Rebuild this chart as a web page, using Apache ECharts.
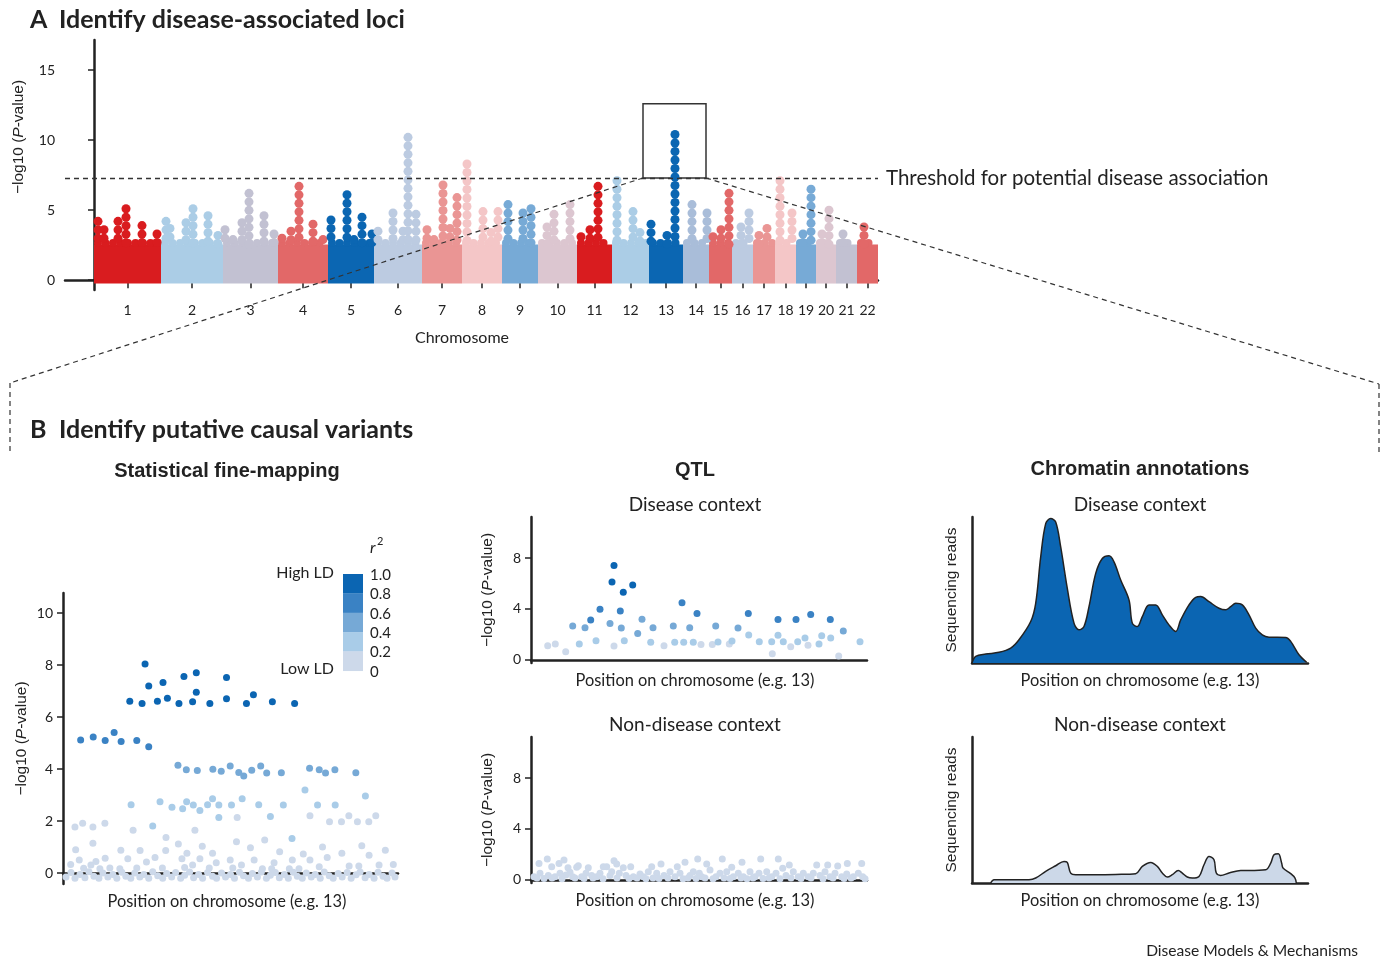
<!DOCTYPE html>
<html>
<head>
<meta charset="utf-8">
<script src="https://cdn.jsdelivr.net/npm/echarts@6/dist/echarts.min.js"></script>
<style>
  html, body { margin: 0; background: #fff; }
  #chart { width: 1389px; height: 960px; }
</style>
</head>
<body>
<div id="chart"></div>
<script>
// ---------- Panel A: Manhattan plot ----------
const chromosomes = ['1','2','3','4','5','6','7','8','9','10','11','12','13','14','15','16','17','18','19','20','21','22'];
const chromWidths = [67,62,55,50,46,48,40,40,36,39,35,37,34,26,23,21,22,21,20,20,21,21];
const chromColors = ['#d91c1f','#abcde6','#c2c1d2','#e26868','#0b66b2','#bccbe1','#ea9594','#f4c6c7','#77aad6','#dcc6d0',
                     '#d91c1f','#abcde6','#0b66b2','#a9bdd9','#e26868','#bccbe1','#ea9594','#f4c6c7','#77aad6','#dcc6d0','#c2c1d2','#e26868'];
const blockTop = 2.55;
const blockBottom = -0.24;
const threshold = 7.3;
// [chromosome, position, top -log10 P] of each stacked column of SNPs
const gwasPeaks = [
  [1,4,4.2],[1,10,3.6],[1,24,4.2],[1,32,5.1],[1,48,3.9],[1,63,3.3],
  [2,72,4.2],[2,76,3.7],[2,92,4.1],[2,99,5.1],[2,114,4.6],[2,124,3.2],
  [3,131,3.6],[3,139,2.9],[3,148,4.1],[3,155,6.2],[3,170,4.6],[3,180,3.3],
  [4,188,3.0],[4,197,3.5],[4,205,6.7],[4,219,4.0],[4,229,2.9],
  [5,237,4.3],[5,253,6.1],[5,260,2.9],[5,268,4.5],[5,278,3.3],
  [6,284,3.5],[6,299,4.8],[6,309,3.5],[6,314,10.2],[6,322,4.7],
  [7,333,3.6],[7,340,2.9],[7,349,6.8],[7,356,3.7],[7,363,5.9],
  [8,373,8.3],[8,389,4.9],[8,397,3.4],[8,404,4.9],
  [9,414,5.4],[9,429,4.8],[9,437,5.1],
  [10,453,3.8],[10,460,4.7],[10,476,5.4],
  [11,487,3.1],[11,496,3.6],[11,504,6.7],
  [12,523,7.1],[12,539,4.9],[12,546,3.4],
  [13,557,4.0],[13,573,3.2],[13,581,10.4],
  [14,598,5.4],[14,613,4.8],
  [15,619,3.1],[15,627,3.6],[15,635,6.2],
  [16,647,3.8],[16,655,4.8],
  [17,665,3.2],[17,673,3.7],
  [18,686,7.1],[18,698,4.8],
  [19,709,3.3],[19,717,6.5],
  [20,728,3.3],[20,735,5.0],
  [21,749,3.3],
  [22,770,3.8]
];
const zoomBox = { x0: 549, x1: 612, y0: 7.3, y1: 12.6 };

// ---------- Panel B: fine-mapping, colour bins by r2 ----------
const ldLabels = ['1.0','0.8','0.6','0.4','0.2','0'];
const ldColors = ['#0b65b2','#3a82c4','#76a9d6','#a9cce8','#cdd9ea'];
const fineMapLD8 = [[67,6.61],[79.3,6.52],[82.3,8.04],[86,7.19],[94.7,6.61],[100.3,7.33],[104.7,6.72],[116.3,6.52],[121.3,7.56],
  [130,6.59],[133.7,7.7],[133.7,6.95],[147.3,6.52],[164,7.52],[164,6.7],[184,6.52],[191,6.86],[210,6.59],[232.3,6.52]];
const fineMapLD6 = [[17.7,5.12],[30.3,5.23],[42.3,5.1],[51.3,5.41],[58.3,5.06],[74,5.1],[86,4.86]];
const fineMapLD4 = [[115.3,4.15],[123.7,3.97],[134.7,3.94],[150.3,3.99],[158.7,3.92],[167.7,4.12],[176.3,3.87],[181.3,3.73],
  [189.3,3.95],[198.3,4.12],[204.3,3.85],[219,3.86],[247.3,4.03],[257,3.97],[263.3,3.85],[272.7,3.97],[293.7,3.86]];
const fineMapLD2 = [[68.3,2.63],[97.3,2.74],[109.3,2.53],[120,2.47],[124,2.74],[130.7,2.62],[137.3,2.41],[145,2.63],[150,2.86],
  [156.3,2.62],[156.3,2.14],[169,2.62],[179.7,2.86],[196.3,2.63],[208,2.18],[221,2.62],[242.7,3.19],[255.3,2.62],[273,2.62],
  [303.3,2.96],[90,1.81],[229.7,1.33]];
const fineMapLD0 = [[12,1.77],[19.7,1.92],[30,1.77],[42,1.92],[70.3,1.65],[132.3,1.65],[174.7,2.14],[247.7,2.2],[267.3,1.97],
  [279.3,1.97],[286.7,2.2],[295.3,1.97],[306.7,1.97],[313.7,2.2],
  [30,1.15],[12.7,0.9],[103.3,1.37],[115.7,1.12],[58,0.88],[77.3,0.87],[103,0.87],[124.3,0.76],[139.7,1.03],[150,0.76],[174,1.2],
  [188,0.97],[202.3,1.27],[217.3,0.82],[241,0.73],[260.3,1.0],[279.7,0.76],[299.7,1.05],[323.3,0.88],[307,0.69],[265,0.6],
  [247.7,0.5],[230,0.5],[211.7,0.4],[191.7,0.5],[167.7,0.5],[153.7,0.4],[137.3,0.55],[119.3,0.55],[92.3,0.6],[83.7,0.43],
  [65,0.55],[42.3,0.57],[33,0.45],[28,0.31],[16.3,0.5],[7.7,0.33],[20.7,0.19],[37,0.17],[47,0.2],[57,0.17],[74,0.2],[99.7,0.2],
  [122,0.21],[130,0.31],[146.7,0.2],[170.3,0.2],[179,0.31],[200,0.17],[209.3,0.17],[227,0.17],[236.7,0.17],[257,0.24],[287,0.27],
  [296.7,0.27],[317,0.31],[331.3,0.33],
  [3,-0.15],[8,0.02],[12,-0.2],[17,-0.05],[22,-0.18],[26,0.05],[31,-0.12],[36,-0.2],[40,0.0],[45,-0.15],[50,-0.05],[54,-0.2],
  [59,0.03],[63,-0.12],[68,-0.2],[72,0.0],[77,-0.15],[81,-0.05],[86,-0.2],[90,0.05],[95,-0.1],[100,-0.2],[104,-0.02],[109,-0.15],
  [113,0.02],[118,-0.2],[122,-0.08],[127,0.04],[131,-0.18],[136,-0.05],[140,-0.2],[145,0.02],[150,-0.12],[154,-0.2],[159,0.0],
  [163,-0.15],[168,-0.05],[172,-0.2],[177,0.03],[181,-0.1],[186,-0.2],[190,-0.02],[195,-0.15],[199,0.04],[204,-0.2],[208,-0.08],
  [213,0.02],[217,-0.18],[222,-0.05],[226,-0.2],[231,0.03],[235,-0.12],[240,-0.2],[244,0.0],[249,-0.15],[253,-0.05],[258,-0.2],
  [262,0.04],[267,-0.1],[271,-0.2],[276,-0.02],[280,-0.15],[285,0.02],[289,-0.2],[294,-0.06],[298,0.04],[303,-0.18],[307,-0.05],
  [312,-0.2],[316,0.03],[321,-0.12],[325,-0.2],[330,0.0],[333,-0.15]];

// ---------- Panel B: QTL ----------
const qtlDiseaseLD8 = [[81,6.12],[83,7.42],[92.3,5.31],[101.7,5.89]];
const qtlDiseaseLD6 = [[59.7,3.13],[69,3.98],[89.3,3.85],[151,4.48],[166,3.65],[217.3,3.65],[247,3.18],[265,3.18],[279.7,3.57],[299.3,3.18]];
const qtlDiseaseLD4 = [[41.7,2.66],[54,2.53],[79,2.86],[90.3,2.5],[106.7,2.08],[111,3.2],[122,2.53],[142.3,2.66],[158.7,2.53],
  [184.7,2.66],[207,2.5],[312.3,2.27]];
const qtlDiseaseLD2 = [[48.3,1.25],[65,1.51],[93.3,1.51],[119.7,1.38],[143.7,1.38],[152.7,1.38],[162.3,1.38],[187,1.41],[201,1.48],
  [217.7,1.95],[228.3,1.43],[240.7,1.43],[247,1.93],[252.3,1.43],[266.7,1.43],[274,1.72],[288,1.25],[290.7,1.9],[299.7,1.72],[329,1.43]];
const qtlDiseaseLD0 = [[16.7,1.12],[24.3,1.25],[34.7,0.65],[83,1.09],[133,1.12],[170,1.22],[181.3,1.22],[198.3,1.25],[241.3,0.49],
  [259.7,1.04],[277,1.15],[307.7,0.31]];
const qtlNonDisease = [[8,1.3],[16.3,1.64],[20.7,1.04],[28,1.3],[33,1.56],[37,0.96],[45.7,0.99],[47.3,1.12],[57.3,0.96],[72.3,1.04],
  [75.7,1.04],[83,1.51],[85.7,1.25],[92.3,0.96],[99.7,1.04],[120.7,1.04],[130,1.25],[146.3,1.04],[154,1.38],[166.7,1.64],[175.7,1.25],
  [191.3,1.64],[200.7,0.99],[211,1.38],[229.7,1.64],[247.3,1.64],[258.3,1.17],[285.7,1.17],[296.7,1.17],[306.7,1.09],[316.3,1.3],[330.7,1.3],
  [3,0.26],[9,0.52],[17.3,0.34],[24,0.26],[29,0.52],[35,0.39],[39,0.6],[41.7,0.26],[50.7,0.26],[55,0.52],[60.7,0.34],[65.7,0.26],
  [69,0.52],[79,0.34],[80.7,0.65],[88.3,0.52],[95,0.34],[102.3,0.26],[109,0.47],[112.3,0.26],[117.3,0.65],[125.7,0.52],[133,0.34],
  [139,0.65],[144,0.26],[149,0.52],[159,0.34],[162.3,0.65],[168.3,0.52],[170.7,0.26],[179,0.78],[185,0.26],[189,0.52],[195.7,0.65],
  [202.3,0.26],[207.3,0.52],[212.3,0.26],[219,0.65],[224,0.26],[228,0.52],[235.7,0.65],[240.7,0.26],[245,0.52],[251.7,0.91],[255,0.34],
  [262.3,0.65],[267.3,0.26],[272.3,0.52],[277.3,0.26],[282.3,0.52],[289,0.34],[294,0.65],[299,0.26],[304,0.52],[310.7,0.26],[315.7,0.47],
  [322.3,0.26],[327.3,0.52],[331.7,0.26],
  [6,0.15],[13,0.12],[21,0.15],[31,0.1],[44,0.15],[53,0.12],[62,0.15],[72,0.1],[86,0.15],[98,0.12],[106,0.15],[115,0.1],[122,0.15],
  [128,0.12],[137,0.15],[152,0.1],[157,0.15],[165,0.12],[174,0.15],[182,0.1],[193,0.15],[199,0.12],[210,0.15],[216,0.1],[222,0.15],
  [232,0.12],[238,0.15],[249,0.1],[260,0.15],[270,0.12],[280,0.15],[292,0.1],[302,0.15],[313,0.12],[320,0.15],[334,0.1]];

// ---------- Panel B: chromatin annotations (sequencing reads) ----------
const readsDisease = [[0,0],[3.7,4.5],[13.7,6.1],[27,7.3],[38.7,10.2],[47,15.9],[58.7,28.4],[63.7,40.9],[68.7,72.7],[73.7,95.5],
  [78.7,98.9],[83.7,96.6],[88.7,79.5],[95.3,51.1],[102,27.3],[107,22.7],[112,25],[117,38.6],[123.7,61.4],[130.3,71.6],[137,73.4],
  [142,69.3],[148.7,56.8],[157,43.2],[160.3,27.3],[165.3,25],[170.3,31.8],[177,39.8],[183.7,39.8],[190.3,33],[197,26.1],[203.7,21.6],
  [208.7,29.5],[217,39.8],[223.7,45],[228.7,45.5],[237,42],[247,37.5],[253.7,36.4],[258.7,38.6],[263.7,40.9],[270.3,39.8],[277,33],
  [283.7,23.9],[290.3,19.3],[297,17.7],[313.7,17.5],[318.7,14.8],[327,5.7],[334.7,0.5]];
const readsNonDisease = [[18.7,0],[22,2.3],[33.7,2.3],[57,2.3],[63.7,3.4],[73.7,8],[83.7,11.8],[92,14.8],[95.3,14.1],[98.7,6.8],
  [103.7,5.7],[123.7,5.7],[143.7,5.9],[163.7,6.4],[170.3,11.4],[178.7,14.1],[185.3,11.4],[190.3,6.8],[195.3,4.1],[200.3,5.7],
  [206.3,8.6],[210.3,6.8],[215.3,4.1],[220.3,3.4],[227,4.5],[232,12.5],[237,18.2],[242,15.9],[244.3,6.8],[248.7,5.2],[257,6.8],
  [268.7,8.6],[277,8.6],[293.7,9.1],[298.7,13.6],[302,19.3],[306.3,20],[309.7,13.6],[311,10.2],[318.7,6.4],[323,3.4],[324.3,0]];

// ---------- styling ----------
const ink = '#222';
const font = 'Lato';
const headFont = 'Liberation Sans';
const axisLine = { lineStyle: { color: ink, width: 2.5 } };
const pLabel = '\u2212log10 ({i|P}-value)';
const pRich = { i: { fontStyle: 'italic', fontFamily: headFont, fontSize: 15.5, color: ink } };
const pNameStyle = { fontFamily: headFont, fontSize: 15.5, color: ink, rich: pRich };

const chromStarts = [];
let acc = 0;
chromWidths.forEach(w => { chromStarts.push(acc); acc += w; });
const chromCenters = chromStarts.map((s, i) => s + chromWidths[i] / 2);
const blockData = chromosomes.map((c, i) => [chromStarts[i], chromStarts[i] + chromWidths[i], i]);

const chart = echarts.init(document.getElementById('chart'));

function plainX(gridIndex, name, shift) {
  return {
    type: 'value', gridIndex, min: 0, max: 336,
    axisLine, axisTick: { show: false }, axisLabel: { show: false }, splitLine: { show: false },
    name, nameLocation: 'middle', nameGap: 10,
    nameTextStyle: { fontFamily: font, fontSize: 16.4, color: ink, padding: [0, shift, 0, 0] }
  };
}
function pvalY(gridIndex, min, max, ticks, nameGap, named) {
  return {
    type: 'value', gridIndex, min, max,
    axisLine,
    axisTick: { show: true, length: 6, lineStyle: { color: ink, width: 1.5 }, customValues: ticks },
    axisLabel: { fontFamily: font, fontSize: 14, color: ink, margin: 10, customValues: ticks },
    splitLine: { show: false },
    name: named ? pLabel : '', nameLocation: 'middle', nameGap, nameTextStyle: pNameStyle
  };
}
function readsY(gridIndex) {
  return {
    type: 'value', gridIndex, min: 0, max: 100,
    axisLine, axisTick: { show: false }, axisLabel: { show: false }, splitLine: { show: false },
    name: 'Sequencing reads', nameLocation: 'middle', nameGap: 12,
    nameTextStyle: { fontFamily: headFont, fontSize: 15.5, color: ink }
  };
}
function dots(name, data, color, xi, size) {
  return { name, type: 'scatter', xAxisIndex: xi, yAxisIndex: xi, data, symbolSize: size,
           itemStyle: { color, opacity: 1 }, silent: true };
}

const option = {
  animation: false,
  backgroundColor: '#fff',
  grid: [
    { left: 65, top: 40, width: 813, height: 250 },
    { left: 63, top: 593, width: 335, height: 291 },
    { left: 531, top: 517, width: 336, height: 146 },
    { left: 531, top: 737, width: 336, height: 146 },
    { left: 972, top: 517, width: 336, height: 146 },
    { left: 972, top: 737, width: 336, height: 146 }
  ],
  xAxis: [
    {
      type: 'value', gridIndex: 0, min: -29, max: acc,
      axisLine,
      axisTick: { show: true, length: 8, lineStyle: { color: ink, width: 1.5 }, customValues: chromCenters },
      axisLabel: {
        fontFamily: font, fontSize: 14, color: ink, margin: 13, customValues: chromCenters,
        formatter: v => {
          const i = chromCenters.findIndex(c => Math.abs(c - v) < 0.01);
          return i >= 0 ? chromosomes[i] : '';
        }
      },
      splitLine: { show: false }
    },
    plainX(1, 'Position on chromosome (e.g. 13)', 7),
    plainX(2, 'Position on chromosome (e.g. 13)', 8),
    plainX(3, 'Position on chromosome (e.g. 13)', 8),
    plainX(4, 'Position on chromosome (e.g. 13)', 0),
    plainX(5, 'Position on chromosome (e.g. 13)', 0)
  ],
  yAxis: [
    pvalY(0, -0.7, 17.15, [0, 5, 10, 15], 38, false),
    pvalY(1, -0.42, 10.77, [0, 2, 4, 6, 8, 10], 33, true),
    pvalY(2, -0.24, 11.22, [0, 4, 8], 35, true),
    pvalY(3, -0.24, 11.22, [0, 4, 8], 35, true),
    readsY(4),
    readsY(5)
  ],
  series: [
    {
      name: 'chromosome blocks', type: 'custom', xAxisIndex: 0, yAxisIndex: 0,
      data: blockData, encode: { x: [0, 1], y: 2 }, silent: true,
      renderItem: (params, api) => {
        const color = chromColors[api.value(2)];
        const a = api.coord([api.value(0), blockTop]);
        const b = api.coord([api.value(1), blockBottom]);
        const children = [{ type: 'rect', shape: { x: a[0], y: a[1], width: b[0] - a[0], height: b[1] - a[1] }, style: { fill: color } }];
        for (let x = a[0] + 4; x <= b[0] - 3; x += 7.5) {
          children.push({ type: 'circle', shape: { cx: x, cy: a[1] - 1.5, r: 4 }, style: { fill: color } });
        }
        return { type: 'group', children };
      },
      markLine: {
        silent: true, symbol: 'none', label: { show: false },
        lineStyle: { color: '#333', width: 1.3, type: [5, 4] },
        data: [{ yAxis: threshold }]
      },
      markArea: {
        silent: true, label: { show: false },
        itemStyle: { color: 'rgba(0,0,0,0)', borderColor: '#333', borderWidth: 1.5 },
        data: [[{ xAxis: zoomBox.x0, yAxis: zoomBox.y0 }, { xAxis: zoomBox.x1, yAxis: zoomBox.y1 }]]
      }
    },
    {
      name: 'SNPs', type: 'custom', xAxisIndex: 0, yAxisIndex: 0,
      data: gwasPeaks.map(p => [p[1], p[2], p[0]]), encode: { x: 0, y: 1 }, silent: true,
      renderItem: (params, api) => {
        const color = chromColors[api.value(2) - 1];
        const top = api.coord([api.value(0), api.value(1)]);
        const base = api.coord([api.value(0), blockTop]);
        const children = [];
        for (let y = top[1]; y < base[1]; y += 8.5) {
          children.push({ type: 'circle', shape: { cx: top[0], cy: y, r: 4.5 }, style: { fill: color } });
        }
        return { type: 'group', children };
      }
    },
    dots('fm r2 0-0.2', fineMapLD0, ldColors[4], 1, 7),
    dots('fm r2 0.2-0.4', fineMapLD2, ldColors[3], 1, 7),
    dots('fm r2 0.4-0.6', fineMapLD4, ldColors[2], 1, 7),
    dots('fm r2 0.6-0.8', fineMapLD6, ldColors[1], 1, 7),
    dots('fm r2 0.8-1', fineMapLD8, ldColors[0], 1, 7),
    dots('qtl d 0', qtlDiseaseLD0, ldColors[4], 2, 7),
    dots('qtl d 2', qtlDiseaseLD2, ldColors[3], 2, 7),
    dots('qtl d 4', qtlDiseaseLD4, ldColors[2], 2, 7),
    dots('qtl d 6', qtlDiseaseLD6, ldColors[1], 2, 7),
    dots('qtl d 8', qtlDiseaseLD8, ldColors[0], 2, 7),
    dots('qtl nd', qtlNonDisease, ldColors[4], 3, 7),
    {
      name: 'reads disease', type: 'line', xAxisIndex: 4, yAxisIndex: 4, data: readsDisease,
      showSymbol: false, smooth: 0.35, silent: true,
      lineStyle: { color: ink, width: 1.5 }, areaStyle: { color: '#0b65b2', opacity: 1 }
    },
    {
      name: 'reads non-disease', type: 'line', xAxisIndex: 5, yAxisIndex: 5, data: readsNonDisease,
      showSymbol: false, smooth: 0.35, silent: true,
      lineStyle: { color: ink, width: 1.5 }, areaStyle: { color: '#ccd8e8', opacity: 1 }
    }
  ]
};

chart.setOption(option);

// annotations: headings, LD colour key and the zoom-in guide lines
function txt(text, x, y, size, opts) {
  opts = opts || {};
  return {
    type: 'text', x, y, z: 100, silent: true, rotation: opts.rotation || 0,
    style: {
      text, fill: opts.fill || ink, rich: opts.rich,
      font: (opts.italic ? 'italic ' : '') + (opts.weight || 'normal') + ' ' + size + 'px ' + (opts.family || font),
      textAlign: opts.align || 'left', textVerticalAlign: 'middle'
    }
  };
}
const boxL = chart.convertToPixel({ gridIndex: 0 }, [zoomBox.x0, zoomBox.y0]);
const boxR = chart.convertToPixel({ gridIndex: 0 }, [zoomBox.x1, zoomBox.y0]);
const dash = { stroke: '#333', lineWidth: 1.2, lineDash: [5, 4] };
const graphic = [
  txt('A', 30, 20, 25, { weight: 'bold' }),
  txt('Identify disease-associated loci', 59, 20, 25, { weight: 'bold' }),
  txt(pLabel, 19, 137, 15.5, { family: headFont, align: 'center', rotation: Math.PI / 2, rich: pRich }),
  txt('Threshold for potential disease association', 886, 178, 20.5),
  txt('Chromosome', 462, 338, 16),
  txt('B', 30, 430, 25, { weight: 'bold' }),
  txt('Identify putative causal variants', 59, 430, 25, { weight: 'bold' }),
  txt('Statistical fine-mapping', 227, 471, 20, { weight: 'bold', family: headFont, align: 'center' }),
  txt('QTL', 695, 470, 20, { weight: 'bold', family: headFont, align: 'center' }),
  txt('Chromatin annotations', 1140, 469, 20, { weight: 'bold', family: headFont, align: 'center' }),
  txt('Disease context', 695, 505, 19, { align: 'center' }),
  txt('Non-disease context', 695, 725, 19, { align: 'center' }),
  txt('Disease context', 1140, 505, 19, { align: 'center' }),
  txt('Non-disease context', 1140, 725, 19, { align: 'center' }),
  txt('High LD', 334, 573, 16, { align: 'right' }),
  txt('Low LD', 334, 669, 16, { align: 'right' }),
  txt('r', 370, 548, 16, { italic: true }),
  txt('2', 377, 541, 11),
  txt('Disease Models & Mechanisms', 1358, 951, 15.6, { align: 'right' }),
  { type: 'line', z: 100, silent: true, shape: { x1: boxL[0], y1: boxL[1], x2: 10, y2: 383 }, style: dash },
  { type: 'line', z: 100, silent: true, shape: { x1: boxR[0], y1: boxR[1], x2: 1379, y2: 384 }, style: dash },
  { type: 'line', z: 100, silent: true, shape: { x1: 10, y1: 383, x2: 10, y2: 455 }, style: dash },
  { type: 'line', z: 100, silent: true, shape: { x1: 1379, y1: 384, x2: 1379, y2: 455 }, style: dash }
];
graphic[4].style.textAlign = 'center';
const keyTop = 574, keyStep = 19.35;
ldColors.forEach((c, i) => {
  graphic.push({ type: 'rect', z: 100, silent: true, shape: { x: 343, y: keyTop + i * keyStep, width: 20, height: keyStep + 0.3 }, style: { fill: c } });
});
ldLabels.forEach((l, i) => graphic.push(txt(l, 370, keyTop + i * keyStep + 1, 15)));

chart.setOption({ graphic });
</script>
</body>
</html>
